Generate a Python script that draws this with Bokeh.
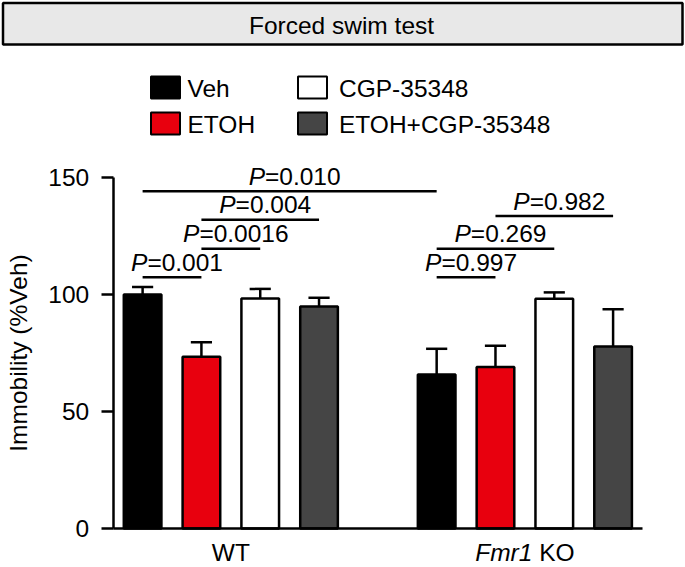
from bokeh.plotting import figure
from bokeh.models import Range1d, LinearAxis, FixedTicker
from bokeh.embed import file_html
from bokeh.resources import INLINE
from bokeh.core.properties import value

# ---------------- data ----------------
title_text = "Forced swim test"
group_italic = ["", "Fmr1"]          # italic part of each group label
group_roman = ["WT", "KO"]           # upright part of each group label
treatments = ["Veh", "ETOH", "CGP-35348", "ETOH+CGP-35348"]
colors = ["#000000", "#E8000E", "#FFFFFF", "#454545"]
wt_mean = [100.0, 73.4, 98.3, 94.9]
wt_sem = [3.2, 6.2, 4.1, 3.7]
ko_mean = [65.8, 69.0, 98.2, 77.8]
ko_sem = [11.0, 9.1, 2.7, 15.9]
y_ticks = [0, 50, 100, 150]
y_label = "Immobility (%Veh)"

# pairwise comparisons: (group, bar) -> (group, bar), bracket height, P value
cmp_from = [(0, 0), (0, 1), (0, 1), (0, 0), (1, 0), (1, 0), (1, 1)]
cmp_to = [(0, 1), (0, 2), (0, 3), (1, 0), (1, 1), (1, 2), (1, 3)]
cmp_level = [107.4, 119.5, 131.9, 144.1, 107.4, 119.5, 133.5]
cmp_p = ["0.001", "0.0016", "0.004", "0.010", "0.997", "0.269", "0.982"]

# ---------------- style / layout ----------------
FONT = "Liberation Sans"
FS = 24.5
FSS = "24.5px"
GAP = 5  # bar slots per group (4 bars + 1 empty)
W, H = 685, 567

# pixel layout of the plotting area
PX_L, PX_R = 112.7, 642.0      # x = -0.5 .. 8.5
PY_0, PY_150 = 528.0, 177.0    # y = 0 .. 150
U = (PX_R - PX_L) / 9.0
V = (PY_0 - PY_150) / 150.0
XS = -0.5 - PX_L / U
XE = XS + W / U
YE = PY_0 / V
YS = YE - H / V


def px_to_x(px):
    return XS + px / U


def py_to_y(py):
    return YE - py / V


AW = {"P": 667, "=": 584, ".": 278, " ": 278, "F": 611, "m": 833, "r": 333,
      "K": 667, "O": 778, "W": 944, "T": 611}
for d in "0123456789":
    AW[d] = 556


def tw(s):
    return sum(AW.get(c, 556) for c in s) / 1000.0 * FS


def pos(g, b):
    return g * GAP + b


p = figure(width=W, height=H, x_range=Range1d(XS, XE), y_range=Range1d(YS, YE),
           output_backend="svg", toolbar_location=None,
           x_axis_location=None, y_axis_location=None,
           min_border=0, min_border_left=0, min_border_right=0,
           min_border_top=0, min_border_bottom=0)
p.grid.visible = False
p.outline_line_color = None

# ---- title box ----
p.quad(left=[px_to_x(2.5)], right=[px_to_x(682)], top=[py_to_y(2.5)], bottom=[py_to_y(44)],
       fill_color="#E8E8E8", line_color="black", line_width=2.5)
p.text(x=[px_to_x(341)], y=[py_to_y(24.5)], text=[title_text], text_font=value(FONT),
       text_font_size=FSS, text_align="center", text_baseline="middle", text_color="black")

# ---- legend ----
leg_px = [165, 165, 312, 312]
leg_py = [87, 123, 87, 123]
leg_tx = [187, 187, 338.5, 338.5]
p.rect(x=[px_to_x(v) for v in leg_px], y=[py_to_y(v) for v in leg_py],
       width=29 / U, height=22 / V, fill_color=colors, line_color="black", line_width=2)
p.text(x=[px_to_x(v) for v in leg_tx], y=[py_to_y(v + 0.5) for v in leg_py], text=treatments,
       text_font=value(FONT), text_font_size=FSS, text_align="left",
       text_baseline="middle", text_color="black")

# ---- axes ----
yax = LinearAxis(ticker=FixedTicker(ticks=y_ticks), bounds=(0, 150), fixed_location=-0.5,
                 axis_label=y_label,
                 axis_label_text_font=FONT, axis_label_text_font_size=FSS,
                 axis_label_text_font_style="normal", axis_label_text_color="black",
                 axis_label_standoff=14,
                 major_label_text_font=FONT, major_label_text_font_size=FSS,
                 major_label_text_color="black", major_label_standoff=12,
                 major_tick_out=12, major_tick_in=0, minor_tick_out=0, minor_tick_in=0,
                 axis_line_width=2.5, major_tick_line_width=2.5,
                 axis_line_color="black", major_tick_line_color="black")
p.add_layout(yax, "left")

xax = LinearAxis(ticker=FixedTicker(ticks=[]), bounds=(-0.5, 8.5), fixed_location=0,
                 major_label_text_font_size="0px", major_tick_out=0, major_tick_in=0,
                 minor_tick_out=0, minor_tick_in=0, major_label_standoff=0,
                 axis_line_width=2.5, axis_line_color="black")
p.add_layout(xax, "below")

# ---- bars with SEM ----
xs, tops, errs, fills = [], [], [], []
for g, (means, sems) in enumerate([(wt_mean, wt_sem), (ko_mean, ko_sem)]):
    for b in range(len(treatments)):
        xs.append(pos(g, b))
        tops.append(means[b])
        errs.append(means[b] + sems[b])
        fills.append(colors[b])

CAP = 0.18
p.segment(x0=xs, y0=tops, x1=xs, y1=errs, line_color="black", line_width=2.5)
p.segment(x0=[x - CAP for x in xs], y0=errs, x1=[x + CAP for x in xs], y1=errs,
          line_color="black", line_width=2.5)
p.vbar(x=xs, top=tops, bottom=0, width=0.64, fill_color=fills,
       line_color="black", line_width=2.5)

# ---- comparison brackets ----
x0s = [pos(*a) for a in cmp_from]
x1s = [pos(*b) for b in cmp_to]
p.segment(x0=x0s, y0=cmp_level, x1=x1s, y1=cmp_level, line_color="black", line_width=2.5)

mids = [(a + b) / 2 for a, b in zip(x0s, x1s)]
rest = ["=" + v for v in cmp_p]
w_p = tw("P")
totals = [w_p + tw(r) for r in rest]
txt_y = [lv + 15 / V for lv in cmp_level]
p.text(x=mids, y=txt_y, text=["P"] * len(mids), x_offset=[5 - t / 2 for t in totals],
       text_font=value(FONT), text_font_size=FSS, text_font_style="italic",
       text_align="left", text_baseline="middle", text_color="black")
p.text(x=mids, y=txt_y, text=rest, x_offset=[5 - t / 2 + w_p for t in totals],
       text_font=value(FONT), text_font_size=FSS,
       text_align="left", text_baseline="middle", text_color="black")

# ---- group labels ----
centers = [pos(g, 1.5) for g in range(len(group_roman))]
it_w = [tw(s) for s in group_italic]
sp_w = [tw(" ") if s else 0.0 for s in group_italic]
ro_w = [tw(s) for s in group_roman]
starts = [-(a + s + b) / 2 for a, s, b in zip(it_w, sp_w, ro_w)]
lab_y = py_to_y(552)
p.text(x=centers, y=[lab_y] * len(centers), text=group_italic, x_offset=starts,
       text_font=value(FONT), text_font_size=FSS, text_font_style="italic",
       text_align="left", text_baseline="middle", text_color="black")
p.text(x=centers, y=[lab_y] * len(centers), text=group_roman,
       x_offset=[st + a + s for st, a, s in zip(starts, it_w, sp_w)],
       text_font=value(FONT), text_font_size=FSS,
       text_align="left", text_baseline="middle", text_color="black")

open("out.html", "w").write(file_html(p, INLINE))
